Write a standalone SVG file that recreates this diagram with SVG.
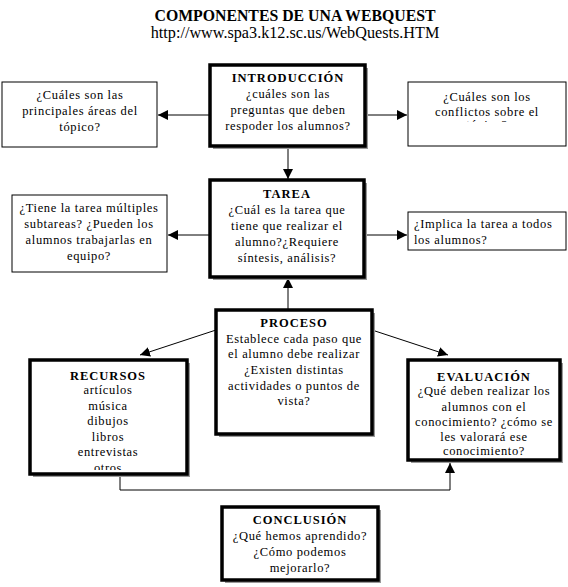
<svg xmlns="http://www.w3.org/2000/svg" width="568" height="587" viewBox="0 0 568 587">
<style>
text{font-family:"Liberation Serif","Times New Roman",serif;font-size:12.5px;letter-spacing:0.65px;fill:#000;text-anchor:middle}
.t{font-size:15.8px;font-weight:bold;letter-spacing:0}
.u{font-size:16.2px;letter-spacing:0}
.h{font-weight:bold;font-size:12.5px;letter-spacing:1px}
.l{text-anchor:start}
.thin{fill:#fff;stroke:#000;stroke-width:1}
.thick{fill:#fff;stroke:#000;stroke-width:3.5}
.sh{fill:#9a9a9a}
.c{stroke:#000;stroke-width:1;fill:none}
</style>
<defs>
<marker id="a" viewBox="0 0 10 10" refX="10" refY="5" markerWidth="10" markerHeight="10" markerUnits="userSpaceOnUse" orient="auto"><path d="M0,0L10,5L0,10z" fill="#000"/></marker>
<clipPath id="c1"><rect x="408" y="82" width="158" height="40"/></clipPath>
<clipPath id="c2"><rect x="30" y="360" width="157" height="110"/></clipPath>
</defs>
<rect width="568" height="587" fill="#fff"/>
<text class="t" x="295" y="21">COMPONENTES DE UNA WEBQUEST</text>
<text class="u" x="295" y="38">http://www.spa3.k12.sc.us/WebQuests.HTM</text>
<g id="connectors">
<line class="c" x1="210" y1="115" x2="158" y2="115" marker-end="url(#a)"/>
<line class="c" x1="365" y1="115" x2="407" y2="115" marker-end="url(#a)"/>
<line class="c" x1="288" y1="147" x2="288" y2="179" marker-end="url(#a)"/>
<line class="c" x1="210" y1="235" x2="168" y2="235" marker-end="url(#a)"/>
<line class="c" x1="364" y1="235" x2="407" y2="235" marker-end="url(#a)"/>
<line class="c" x1="288" y1="310" x2="288" y2="278" marker-end="url(#a)"/>
<line class="c" x1="216" y1="330" x2="140" y2="355" marker-end="url(#a)"/>
<line class="c" x1="372" y1="330" x2="448" y2="355" marker-end="url(#a)"/>
<polyline class="c" points="120,474 120,490 450,490 450,463" marker-end="url(#a)"/>
</g>
<g id="intro">
<rect class="sh" x="213" y="68" width="155" height="81"/>
<rect class="thick" x="210" y="65" width="155" height="81"/>
<text class="h" x="288" y="82">INTRODUCCIÓN</text>
<text x="288" y="98">¿cuáles son las</text>
<text x="288" y="114">preguntas que deben</text>
<text x="288" y="130">respoder los alumnos?</text>
</g>
<g id="intro-left">
<rect class="thin" x="2" y="82" width="155" height="65"/>
<text x="80" y="99">¿Cuáles son las</text>
<text x="80" y="115">principales áreas del</text>
<text x="80" y="131">tópico?</text>
</g>
<g id="intro-right">
<rect class="thin" x="408" y="82" width="158" height="64"/>
<g clip-path="url(#c1)">
<text x="487" y="101">¿Cuáles son los</text>
<text x="487" y="116">conflictos sobre el</text>
<text x="487" y="129">tópico?</text>
</g>
</g>
<g id="tarea">
<rect class="sh" x="213" y="183" width="154" height="97"/>
<rect class="thick" x="210" y="180" width="154" height="97"/>
<text class="h" x="287" y="198">TAREA</text>
<text x="287" y="214">¿Cuál es la tarea que</text>
<text x="287" y="230">tiene que realizar el</text>
<text x="287" y="246">alumno?¿Requiere</text>
<text x="287" y="262">síntesis, análisis?</text>
</g>
<g id="tarea-left">
<rect class="thin" x="12" y="195" width="155" height="77"/>
<text x="89" y="212">¿Tiene la tarea múltiples</text>
<text x="89" y="228">subtareas? ¿Pueden los</text>
<text x="89" y="244">alumnos trabajarlas en</text>
<text x="89" y="260">equipo?</text>
</g>
<g id="tarea-right">
<rect class="thin" x="408" y="212" width="158" height="38"/>
<text class="l" x="414" y="228">¿Implica la tarea a todos</text>
<text class="l" x="414" y="244">los alumnos?</text>
</g>
<g id="proceso">
<rect class="sh" x="219" y="313" width="156" height="124"/>
<rect class="thick" x="216" y="310" width="156" height="124"/>
<text class="h" x="294" y="327">PROCESO</text>
<text x="294" y="343">Establece cada paso que</text>
<text x="294" y="358">el alumno debe realizar</text>
<text x="294" y="374">¿Existen distintas</text>
<text x="294" y="390">actividades o puntos de</text>
<text x="294" y="405">vista?</text>
</g>
<g id="recursos">
<rect class="sh" x="33" y="363" width="157" height="114"/>
<rect class="thick" x="30" y="360" width="157" height="114"/>
<g clip-path="url(#c2)">
<text class="h" x="108" y="380">RECURSOS</text>
<text x="108" y="394">artículos</text>
<text x="108" y="410">música</text>
<text x="108" y="425">dibujos</text>
<text x="108" y="441">libros</text>
<text x="108" y="456">entrevistas</text>
<text x="108" y="472">otros</text>
</g>
</g>
<g id="evaluacion">
<rect class="sh" x="411" y="363" width="152" height="100"/>
<rect class="thick" x="408" y="360" width="152" height="100"/>
<text class="h" x="484" y="381">EVALUACIÓN</text>
<text x="484" y="395">¿Qué deben realizar los</text>
<text x="484" y="411">alumnos con el</text>
<text x="484" y="426">conocimiento? ¿cómo se</text>
<text x="484" y="441">les valorará ese</text>
<text x="484" y="455">conocimiento?</text>
</g>
<g id="conclusion">
<rect class="sh" x="225" y="510" width="156" height="73"/>
<rect class="thick" x="222" y="507" width="156" height="73"/>
<text class="h" x="300" y="524">CONCLUSIÓN</text>
<text x="300" y="540">¿Qué hemos aprendido?</text>
<text x="300" y="556">¿Cómo podemos</text>
<text x="300" y="572">mejorarlo?</text>
</g>
</svg>
